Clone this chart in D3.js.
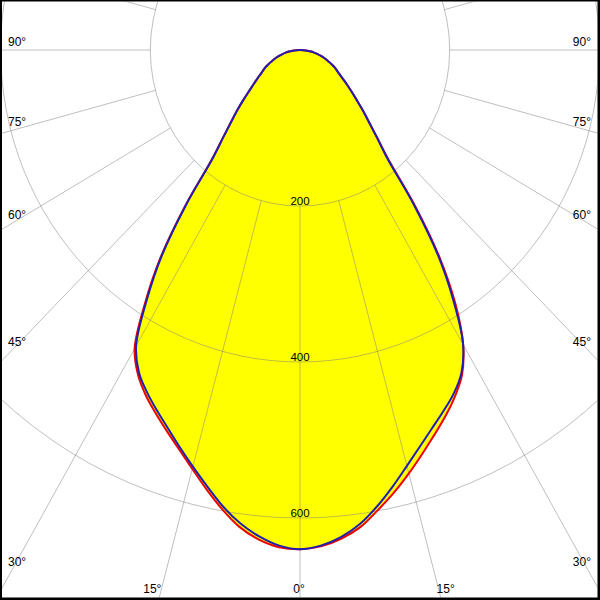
<!DOCTYPE html>
<html>
<head>
<meta charset="utf-8">
<script src="https://cdn.jsdelivr.net/npm/d3@7"></script>
<style>
  html, body { margin: 0; padding: 0; background: #fff; }
  svg { display: block; }
</style>
</head>
<body>
<svg id="chart" width="600" height="600"></svg>
<script>
// ---- data (luminous intensity, cd) ----
const gammaAngles = [0, 2.5, 5, 7.5, 10, 12.5, 15, 17.5, 20, 22.5, 25, 27.5, 30, 32.5, 35, 37.5, 40, 42.5, 45, 47.5, 50, 52.5, 55, 57.5, 60, 62.5, 65, 67.5, 70, 72.5, 75, 77.5, 80, 82.5, 85, 87.5, 90];
// red plane (C0 right, C180 left)
const redRight = [640, 637, 629, 617, 599, 581, 562, 543, 525, 508, 490, 469, 436, 387, 326, 254, 185, 153, 130, 113, 98, 86, 76, 67, 60, 55, 50, 44, 39, 34, 29, 24, 19, 15, 10, 5, 0];
const redLeft  = [640, 638, 630, 617, 598, 577, 556, 537, 520, 504, 488, 469, 442, 386, 325, 252, 183, 152, 130, 113, 98, 85, 75, 67, 60, 55, 50, 44, 39, 34, 29, 24, 19.5, 15, 10, 5, 0];
// blue plane (C90 right, C270 left)
const blueRight = [640, 636, 627, 613, 594, 573, 552, 533, 516, 501, 486, 467, 436, 382, 322, 250, 182, 152, 130, 113, 98, 86, 76, 67, 60, 55, 50, 44, 39, 34, 29, 24, 19, 15, 10, 5, 0];
const blueLeft  = [640, 636, 626, 612, 594, 573, 553, 534, 516, 500, 484, 466, 438, 382, 322, 250, 182, 152, 130, 113, 98, 85, 75, 67, 60, 55, 50, 44, 39, 34, 29, 24, 19.5, 15, 10, 5, 0];

const ringValues = [200, 400, 600];
const ringLabels = ["200", "400", "600"];
const sideAngleLabels = [90, 75, 60, 45, 30];
const bottomAngleLabels = [15, 0];

// ---- layout ----
const W = 600, H = 600;
const cx = 300, cy = 50;
const sx = d3.scaleLinear().domain([0, 600]).range([0, 449]);
const sy = d3.scaleLinear().domain([0, 600]).range([0, 468]);
const rad = d => d * Math.PI / 180;

const svg = d3.select("#chart");
svg.append("rect").attr("width", W).attr("height", H).attr("fill", "#fff");
svg.append("defs").append("clipPath").attr("id", "clip")
  .append("rect").attr("x", 2).attr("y", 1.5).attr("width", W - 4.5).attr("height", H - 4);

const plot = svg.append("g").attr("clip-path", "url(#clip)");

function pt(g, I, side) {
  return [cx + side * sx(I) * Math.sin(rad(g)), cy + sy(I) * Math.cos(rad(g))];
}
function planePoints(left, right) {
  const pts = [];
  for (let i = gammaAngles.length - 1; i >= 0; i--) pts.push(pt(gammaAngles[i], left[i], -1));
  for (let i = 1; i < gammaAngles.length - 1; i++) pts.push(pt(gammaAngles[i], right[i], 1));
  return pts;
}
const redPts = planePoints(redLeft, redRight);
const bluePts = planePoints(blueLeft, blueRight);
const line = d3.line().curve(d3.curveCatmullRomClosed.alpha(0.5));

// fill
[redPts, bluePts].forEach(p => {
  plot.append("path").attr("d", line(p)).attr("fill", "#ffff00").attr("stroke", "none");
});

// grid
const grid = plot.append("g").attr("stroke", "#808080").attr("stroke-opacity", 0.5).attr("fill", "none").attr("stroke-width", 1);
ringValues.forEach(r => {
  grid.append("ellipse").attr("cx", cx).attr("cy", cy).attr("rx", sx(r)).attr("ry", sy(r));
});
d3.range(0, 360, 15).forEach(a => {
  const p0 = pt(a, ringValues[0], 1), p1 = pt(a, 1400, 1);
  grid.append("line").attr("x1", p0[0]).attr("y1", p0[1]).attr("x2", p1[0]).attr("y2", p1[1]);
});

// ring labels
const font = "'Liberation Sans', Arial, sans-serif";
ringValues.forEach((r, i) => {
  plot.append("text").attr("x", cx).attr("y", cy + sy(r) - 1.5)
    .attr("text-anchor", "middle").attr("font-family", font).attr("font-size", 11.5)
    .attr("fill", "#000").text(ringLabels[i]);
});

// curves
plot.append("path").attr("d", line(redPts)).attr("fill", "none")
  .attr("stroke", "#ee0000").attr("stroke-width", 2).attr("stroke-linejoin", "round");
plot.append("path").attr("d", line(bluePts)).attr("fill", "none")
  .attr("stroke", "#2020b0").attr("stroke-width", 2).attr("stroke-linejoin", "round");

// angle labels on the sides
sideAngleLabels.forEach(a => {
  const r = sx.invert(288) / Math.sin(rad(a));
  const y = cy + sy(r) * Math.cos(rad(a)) - 4;
  plot.append("text").attr("x", 8).attr("y", y).attr("text-anchor", "start")
    .attr("font-family", font).attr("font-size", 12).attr("fill", "#000").text(a + "°");
  plot.append("text").attr("x", 591).attr("y", y).attr("text-anchor", "end")
    .attr("font-family", font).attr("font-size", 12).attr("fill", "#000").text(a + "°");
});
bottomAngleLabels.forEach(a => {
  const yb = 593;
  if (a === 0) {
    plot.append("text").attr("x", cx - 1).attr("y", yb).attr("text-anchor", "middle")
      .attr("font-family", font).attr("font-size", 12).attr("fill", "#000").text(a + "°");
  } else {
    const r = sy.invert(yb - cy) / Math.cos(rad(a));
    const dx = sx(r) * Math.sin(rad(a));
    plot.append("text").attr("x", cx - dx + 1).attr("y", yb).attr("text-anchor", "end")
      .attr("font-family", font).attr("font-size", 12).attr("fill", "#000").text(a + "°");
    plot.append("text").attr("x", cx + dx - 3).attr("y", yb).attr("text-anchor", "start")
      .attr("font-family", font).attr("font-size", 12).attr("fill", "#000").text(a + "°");
  }
});

// frame
svg.append("rect").attr("x", 0).attr("y", 0).attr("width", 2).attr("height", H).attr("fill", "#000");
svg.append("rect").attr("x", 0).attr("y", 0).attr("width", W).attr("height", 1.5).attr("fill", "#000");
svg.append("rect").attr("x", W - 2.5).attr("y", 0).attr("width", 2.5).attr("height", H).attr("fill", "#000");
svg.append("rect").attr("x", 0).attr("y", H - 2.5).attr("width", W).attr("height", 2.5).attr("fill", "#000");
</script>
</body>
</html>
